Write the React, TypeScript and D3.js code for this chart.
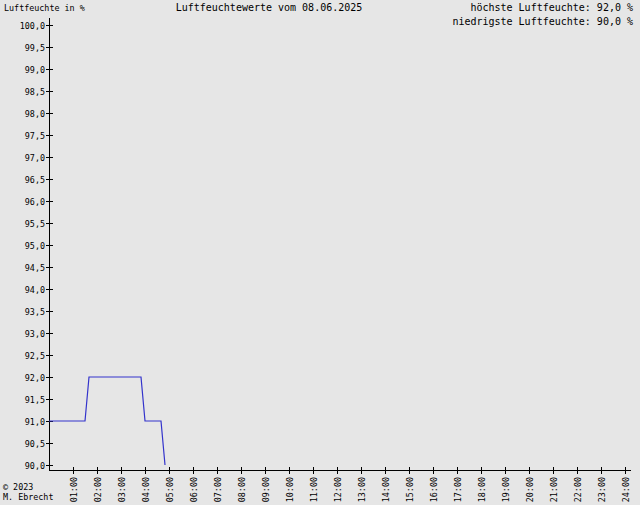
import * as d3 from 'd3';

// Messwerte (Minuten seit Mitternacht, Luftfeuchte in %)
const minutes = [0, 90, 100, 230, 240, 280, 290];
const humidity = [91.0, 91.0, 92.0, 92.0, 91.0, 91.0, 90.0];

const yTicks = [90, 90.5, 91, 91.5, 92, 92.5, 93, 93.5, 94, 94.5, 95, 95.5, 96, 96.5, 97, 97.5, 98, 98.5, 99, 99.5, 100];
const hourTicks = d3.range(1, 25);

const title = 'Luftfeuchtewerte vom 08.06.2025';
const maxText = 'höchste Luftfeuchte: 92,0 %';
const minText = 'niedrigste Luftfeuchte: 90,0 %';

const W = 640;
const H = 505;
const mono = '"DejaVu Sans Mono", "Liberation Mono", monospace';

export default function App() {
  const x = d3.scaleLinear().domain([0, 24 * 60]).range([49, 625]);
  const y = d3.scaleLinear().domain([90, 100]).range([465, 25]);

  const line = d3
    .line<number>()
    .x((_, i) => x(minutes[i]))
    .y((d) => y(d));

  const fmt = (v: number) => v.toFixed(1).replace('.', ',');
  const hh = (h: number) => `${String(h).padStart(2, '0')}:00`;

  return (
    <svg
      width={W}
      height={H}
      style={{ position: 'absolute', left: 0, top: 0, background: '#e6e6e6' }}
    >
      <rect width={W} height={H} fill="#e6e6e6" />

      {/* Beschriftungen oben */}
      <text x={4} y={11} fontFamily={mono} fontSize={8.4} fill="#000">
        Luftfeuchte in %
      </text>
      <text x={269} y={11} textAnchor="middle" fontFamily={mono} fontSize={10} fill="#000">
        {title}
      </text>
      <text x={633} y={11} textAnchor="end" fontFamily={mono} fontSize={10} fill="#000">
        {maxText}
      </text>
      <text x={633} y={25} textAnchor="end" fontFamily={mono} fontSize={10} fill="#000">
        {minText}
      </text>

      {/* y-Achse */}
      <g shapeRendering="crispEdges">
        <line x1={49.5} x2={49.5} y1={18} y2={470} stroke="#000" />
        {yTicks.map((t) => (
          <g key={t} transform={`translate(0,${Math.round(y(t)) + 0.5})`}>
            <line x1={46} x2={53} stroke="#000" />
            <text
              x={45}
              y={3}
              textAnchor="end"
              fontFamily={mono}
              fontSize={8.4}
              fill="#000"
              shapeRendering="auto"
            >
              {fmt(t)}
            </text>
          </g>
        ))}
      </g>

      {/* x-Achse */}
      <g shapeRendering="crispEdges">
        <line x1={49} x2={631} y1={470.5} y2={470.5} stroke="#000" />
        {hourTicks.map((h) => {
          const px = Math.round(x(h * 60)) + 0.5;
          return (
            <g key={h}>
              <line x1={px} x2={px} y1={467} y2={474} stroke="#000" />
              <text
                transform={`translate(${px + 3},477) rotate(-90)`}
                textAnchor="end"
                fontFamily={mono}
                fontSize={8.4}
                fill="#000"
              >
                {hh(h)}
              </text>
            </g>
          );
        })}
      </g>

      {/* Messkurve */}
      <path d={line(humidity) ?? ''} fill="none" stroke="#3333cc" strokeWidth={1.2} />

      {/* Copyright */}
      <text x={3} y={490} fontFamily={mono} fontSize={8.4} fill="#000">
        © 2023
      </text>
      <text x={3} y={500} fontFamily={mono} fontSize={8.4} fill="#000">
        M. Ebrecht
      </text>
    </svg>
  );
}
